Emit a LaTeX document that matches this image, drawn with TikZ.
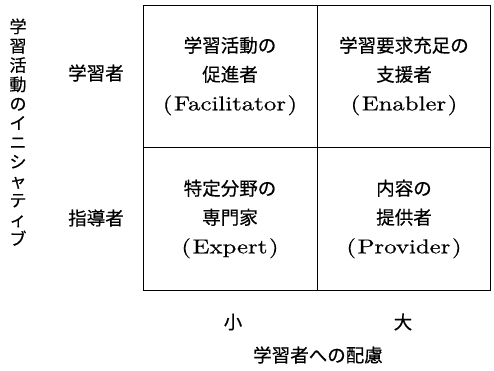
\documentclass[tikz,border=0pt]{standalone}
\usepackage{fontspec}
\newfontfamily\cjk{Noto Sans CJK JP}[FakeBold=0.4]
\newfontfamily\lat{lmroman10-regular.otf}[FakeStretch=1.24,FakeBold=0.45]
\newcommand{\latpar}[1]{{\lat\fontsize{20bp}{24bp}\selectfont(\kern1.5bp#1\kern1.5bp)}}
\begin{document}
\begin{tikzpicture}[x=1bp,y=-1bp,
  cell/.style={align=center,font=\fontsize{18.5bp}{29bp}\selectfont},
  lbl/.style={font=\cjk\fontsize{18.5bp}{22bp}\selectfont},
  box/.style={draw,line width=1bp}]
\useasboundingbox (0,0) rectangle (494,370);
\draw[box] (143,5) rectangle (490,290);
\draw[line width=0.9bp] (317,5) -- (317,290);
\draw[line width=0.9bp] (143,147) -- (490,147);
\node[cell] (c11) at (230,76) {{\cjk 学習活動の}\\{\cjk 促進者}\\\latpar{Facilitator}};
\node[cell] (c12) at (404,76) {{\cjk 学習要求充足の}\\{\cjk 支援者}\\\latpar{Enabler}};
\node[cell] (c21) at (230,219) {{\cjk 特定分野の}\\{\cjk 専門家}\\\latpar{Expert}};
\node[cell] (c22) at (404,219) {{\cjk 内容の}\\{\cjk 提供者}\\\latpar{Provider}};
\node[lbl] (r1) at (96,73) {学習者};
\node[lbl] (r2) at (96,218) {指導者};
\node[lbl] (x1) at (233,322) {小};
\node[lbl] (x2) at (403,322) {大};
\node[lbl] (xt) at (318,355) {学習者への配慮};
\node[lbl,align=center,font=\cjk\fontsize{17bp}{19.3bp}\selectfont,anchor=north] (yt) at (18,15) {学\\習\\活\\動\\の\\イ\\ニ\\シ\\ャ\\テ\\ィ\\ブ};
\end{tikzpicture}
\end{document}
